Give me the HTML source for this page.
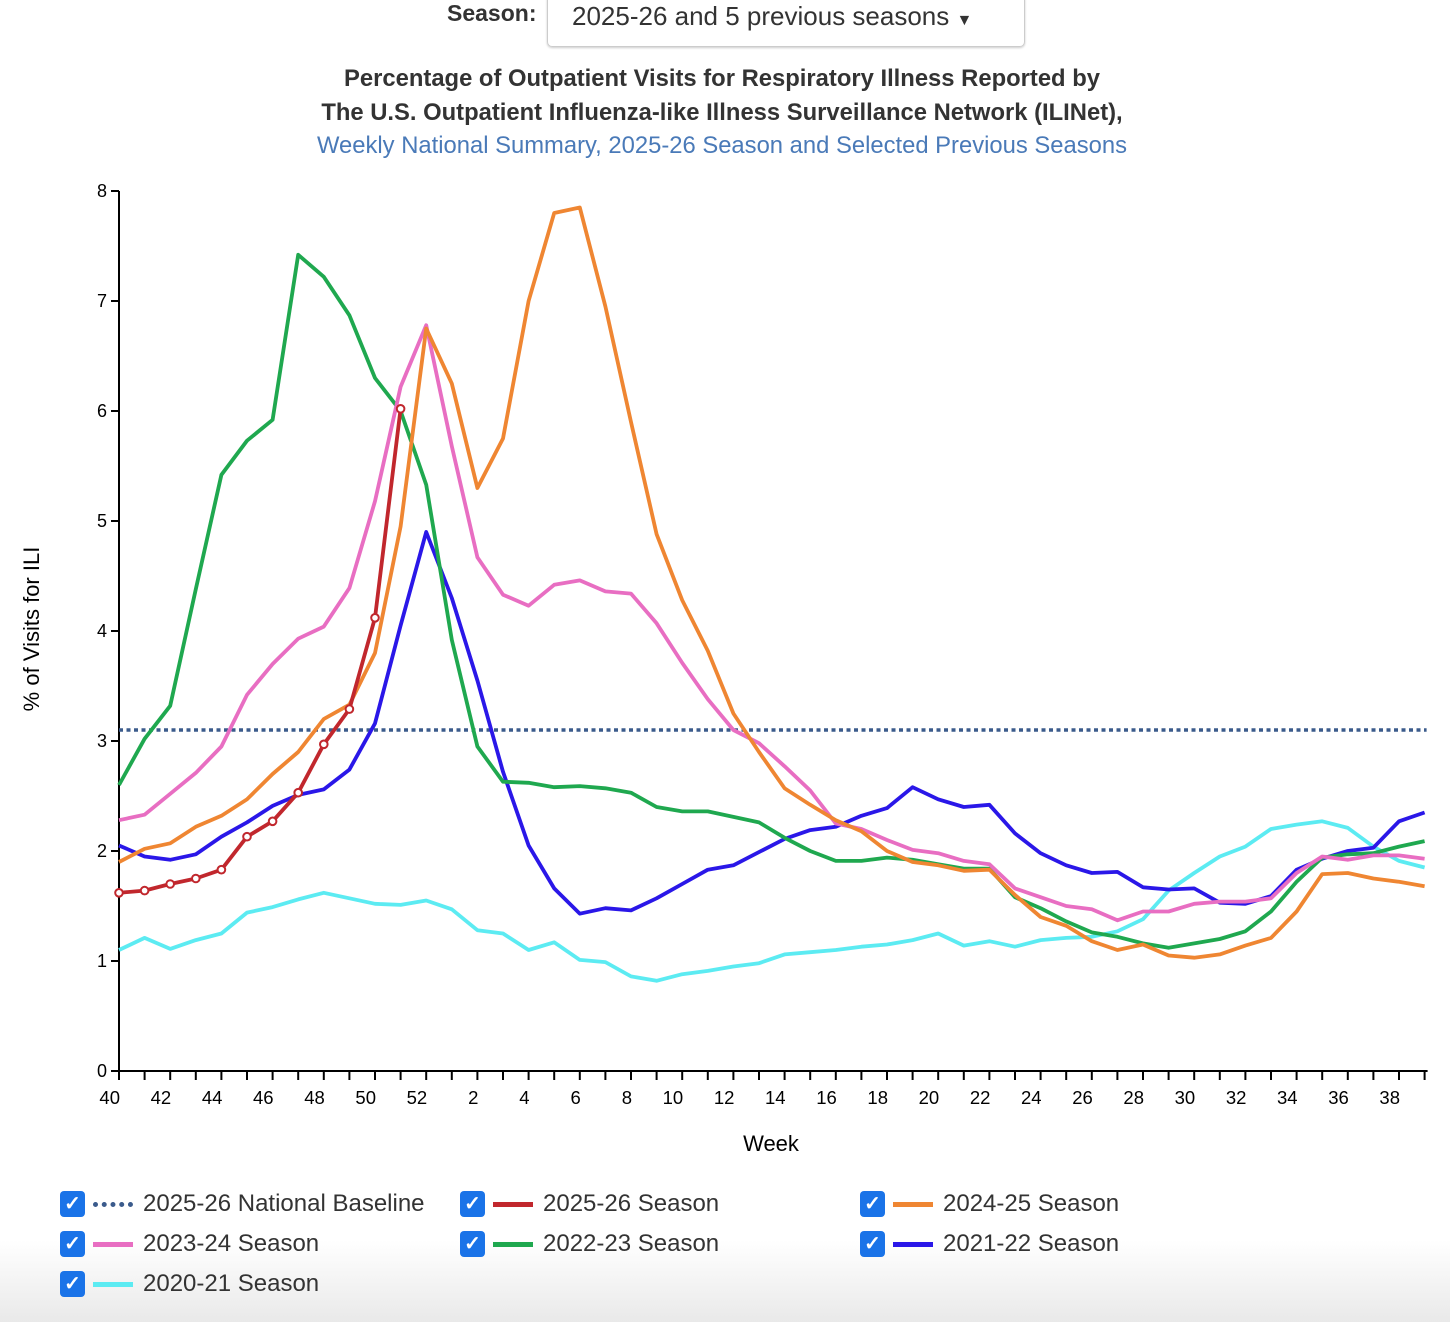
<!DOCTYPE html>
<html><head><meta charset="utf-8"><style>
html,body{margin:0;padding:0;width:1450px;height:1322px;overflow:hidden;background:#fff;font-family:"Liberation Sans",sans-serif;}
.abs{position:absolute;}
</style></head><body>
<div class="abs" style="left:0;top:1240px;width:1450px;height:82px;background:linear-gradient(#fff,#e9e9e9);"></div>
<div class="abs" style="left:447px;top:0px;font-size:23px;font-weight:bold;color:#333;">Season:</div>
<div class="abs" style="left:547px;top:-6px;width:478px;height:53px;border:1px solid #ccc;border-radius:5px;box-shadow:0 1px 2px #ccc;font-size:26px;color:#333;box-sizing:border-box;padding:6px 0 0 24px;white-space:nowrap;">2025-26 and 5 previous seasons <span style="font-size:16px;">&#9660;</span></div>
<div class="abs" style="left:0;width:1444px;top:62px;text-align:center;font-size:23.8px;font-weight:bold;color:#333;line-height:33.5px;white-space:nowrap;">Percentage of Outpatient Visits for Respiratory Illness Reported by<br>The U.S. Outpatient Influenza-like Illness Surveillance Network (ILINet),<br><span style="font-weight:normal;color:#4a7ab8;">Weekly National Summary, 2025-26 Season and Selected Previous Seasons</span></div>
<svg class="abs" style="left:0;top:0" width="1450" height="1322" id="chart"></svg>
<script>
const weeks=[40,41,42,43,44,45,46,47,48,49,50,51,52,1,2,3,4,5,6,7,8,9,10,11,12,13,14,15,16,17,18,19,20,21,22,23,24,25,26,27,28,29,30,31,32,33,34,35,36,37,38,39];
const yTicks=[0,1,2,3,4,5,6,7,8];
const baseline=3.1;
const s2526=[1.62,1.64,1.70,1.75,1.83,2.13,2.27,2.53,2.97,3.29,4.12,6.02];
const s2425=[1.90,2.02,2.07,2.22,2.32,2.47,2.70,2.90,3.20,3.33,3.80,4.95,6.75,6.25,5.30,5.75,7.00,7.80,7.85,6.95,5.90,4.88,4.28,3.82,3.25,2.90,2.57,2.42,2.28,2.18,2.00,1.90,1.87,1.82,1.83,1.60,1.40,1.32,1.18,1.10,1.15,1.05,1.03,1.06,1.14,1.21,1.45,1.79,1.80,1.75,1.72,1.68];
const s2324=[2.28,2.33,2.52,2.71,2.95,3.42,3.70,3.93,4.04,4.39,5.18,6.22,6.78,5.68,4.67,4.33,4.23,4.42,4.46,4.36,4.34,4.07,3.71,3.38,3.10,2.98,2.77,2.55,2.25,2.20,2.10,2.01,1.98,1.91,1.88,1.66,1.58,1.50,1.47,1.37,1.45,1.45,1.52,1.54,1.54,1.57,1.80,1.95,1.92,1.96,1.96,1.93];
const s2223=[2.60,3.02,3.32,4.38,5.42,5.73,5.92,7.42,7.22,6.87,6.30,6.00,5.33,3.92,2.95,2.63,2.62,2.58,2.59,2.57,2.53,2.40,2.36,2.36,2.31,2.26,2.12,2.00,1.91,1.91,1.94,1.92,1.88,1.84,1.84,1.58,1.48,1.36,1.26,1.22,1.16,1.12,1.16,1.20,1.27,1.45,1.72,1.94,1.97,1.98,2.04,2.09];
const s2122=[2.05,1.95,1.92,1.97,2.13,2.26,2.41,2.51,2.56,2.74,3.16,4.05,4.90,4.30,3.55,2.72,2.05,1.66,1.43,1.48,1.46,1.57,1.70,1.83,1.87,1.99,2.11,2.19,2.22,2.32,2.39,2.58,2.47,2.40,2.42,2.16,1.98,1.87,1.80,1.81,1.67,1.65,1.66,1.53,1.52,1.59,1.83,1.93,2.00,2.03,2.27,2.35];
const s2021=[1.10,1.21,1.11,1.19,1.25,1.44,1.49,1.56,1.62,1.57,1.52,1.51,1.55,1.47,1.28,1.25,1.10,1.17,1.01,0.99,0.86,0.82,0.88,0.91,0.95,0.98,1.06,1.08,1.10,1.13,1.15,1.19,1.25,1.14,1.18,1.13,1.19,1.21,1.22,1.27,1.38,1.64,1.80,1.95,2.04,2.20,2.24,2.27,2.21,2.04,1.91,1.85];

const NS='http://www.w3.org/2000/svg';
const svg=document.getElementById('chart');
const X0=119,DX=25.6,Y0=1071,DY=110;
const xs=i=>X0+i*DX;
const ys=v=>Y0-v*DY;
function mk(tag,attrs,parent){const e=document.createElementNS(NS,tag);for(const k in attrs)e.setAttribute(k,attrs[k]);(parent||svg).appendChild(e);return e;}

let ax=mk('line',{x1:X0,y1:ys(8),x2:X0,y2:Y0,stroke:'#000','stroke-width':2});


yTicks.forEach(t=>{
  const l=mk('line',{x1:X0-8,x2:X0,y1:ys(t),y2:ys(t),stroke:'#000','stroke-width':2});
  
  
  const tx=mk('text',{x:X0-12,y:ys(t)+6,'text-anchor':'end','font-size':18,fill:'#000'});
  tx.textContent=t;
  
  
});
let xa=mk('line',{x1:X0,y1:Y0,x2:xs(51)+3,y2:Y0,stroke:'#000','stroke-width':2});


weeks.forEach((w,i)=>{
  const l=mk('line',{x1:xs(i),x2:xs(i),y1:Y0,y2:Y0+9,stroke:'#000','stroke-width':2});
  
  
  if(w%2===0){
    const tx=mk('text',{x:xs(i)+1,y:Y0+33,'text-anchor':'end','font-size':18.5,fill:'#000'});
    tx.textContent=w;
    
    
  }
});
let xt=mk('text',{x:771,y:1151,'text-anchor':'middle','font-size':22,fill:'#000'});
xt.textContent='Week';


let yt=mk('text',{x:0,y:0,'text-anchor':'middle','font-size':22,fill:'#000',transform:'translate(39,629) rotate(-90)'});
yt.textContent='% of Visits for ILI';



let bl=mk('line',{x1:X0,x2:xs(51)+2,y1:ys(baseline),y2:ys(baseline),stroke:'#3b5b8c','stroke-width':3.5,'stroke-dasharray':'4,3.5'});



function series(vals,color,name){
  const d=vals.map((v,i)=>(i?'L':'M')+xs(i)+','+ys(v)).join(' ');
  const p=mk('path',{d:d,fill:'none',stroke:color,'stroke-width':3.8,'stroke-linejoin':'round'});
  
  
}
series(s2021,'#5cebf2','line-2020-21');
series(s2122,'#2a17e8','line-2021-22');
series(s2223,'#1fa84f','line-2022-23');
series(s2324,'#e86ec2','line-2023-24');
series(s2425,'#ef8632','line-2024-25');
series(s2526,'#c1272d','line-2025-26');
s2526.forEach((v,i)=>{
  const c=mk('circle',{cx:xs(i),cy:ys(v),r:3.8,fill:'#fff',stroke:'#c1272d','stroke-width':2});
  
  
});
</script>
<script>
const legendItems=[
 ['2025-26 National Baseline','#3b5b8c',true,60,1204],
 ['2025-26 Season','#c1272d',false,460,1204],
 ['2024-25 Season','#ef8632',false,860,1204],
 ['2023-24 Season','#e86ec2',false,60,1244],
 ['2022-23 Season','#1fa84f',false,460,1244],
 ['2021-22 Season','#2a17e8',false,860,1244],
 ['2020-21 Season','#5cebf2',false,60,1284]
];
legendItems.forEach(it=>{
  const d=document.createElement('div');
  d.className='abs';
  d.style.cssText=`left:${it[3]}px;top:${it[4]-13}px;height:26px;display:flex;align-items:center;white-space:nowrap;`;
  
  
  const swatch=it[2]?`<div style="width:40px;height:0;border-top:5px dotted ${it[1]};margin:0 10px 0 8px"></div>`:`<div style="width:40px;height:5px;background:${it[1]};margin:0 10px 0 8px"></div>`;
  d.innerHTML=`<div style="width:25px;height:26px;background:#1a73e8;border-radius:4px;color:#fff;font-size:20px;font-weight:bold;text-align:center;line-height:26px;">&#10003;</div>${swatch}<span style="font-size:24px;color:#333;">${it[0]}</span>`;
  document.body.appendChild(d);
});
</script>
</body></html>
